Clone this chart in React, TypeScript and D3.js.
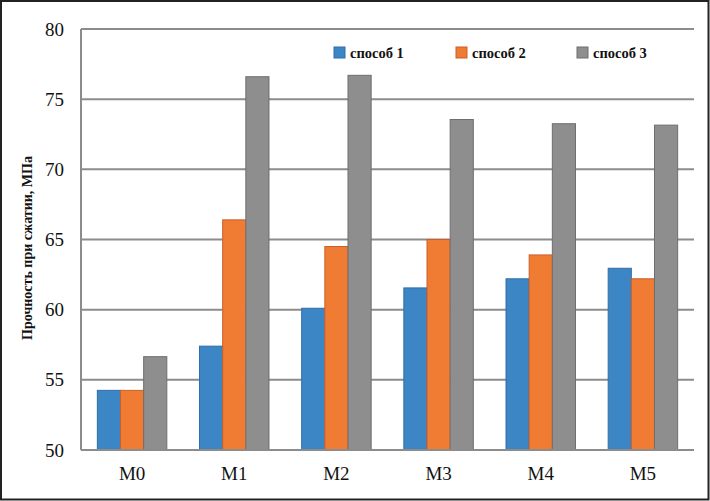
import React from "react";
import * as d3 from "d3";

const categories = ["M0", "M1", "M2", "M3", "M4", "M5"];
const seriesNames = ["способ 1", "способ 2", "способ 3"];
const series1 = [54.25, 57.4, 60.1, 61.55, 62.2, 62.95];
const series2 = [54.25, 66.4, 64.5, 65.0, 63.9, 62.2];
const series3 = [56.65, 76.6, 76.7, 73.55, 73.25, 73.15];
const yTicks = [50, 55, 60, 65, 70, 75, 80];
const colors = ["#3d86c6", "#f07b32", "#8e8e8e"];
const strokes = ["#2f6ea6", "#c9602a", "#6e6e6e"];

export default function App() {
  const W = 710, H = 501;
  const left = 81, right = 694, top = 29, bottom = 450;
  const y = d3.scaleLinear().domain([50, 80]).range([bottom, top]);
  const x = d3.scaleBand().domain(categories).range([left, right]).paddingInner(0.32).paddingOuter(0.16);
  const xs = d3.scaleBand().domain(["0", "1", "2"]).range([0, x.bandwidth()]);
  const data = [series1, series2, series3];
  const font = '"Liberation Serif"';
  const legendX = [334, 456, 577];
  return (
    <svg width={W} height={H} style={{ position: "absolute", left: 0, top: 0 }}>
      <rect x={0} y={0} width={W} height={H} fill="#fff" />
      <rect x={1} y={1} width={W - 2.5} height={H - 2.5} fill="none" stroke="#222" strokeWidth={2} />
      {yTicks.map((t) => (
        <g key={t}>
          {t > 50 && (
            <line x1={left} x2={right} y1={y(t)} y2={y(t)} stroke="#8c8c8c" strokeWidth={2} />
          )}
          <text x={64} y={y(t)} dy="0.35em" textAnchor="end" fontSize={19} fill="#111" style={{ fontFamily: font }}>
            {t}
          </text>
        </g>
      ))}
      {categories.map((c, i) => (
        <g key={c}>
          {data.map((s, k) => (
            <rect
              key={k}
              x={(x(c) as number) + (xs(String(k)) as number)}
              y={y(s[i])}
              width={xs.bandwidth()}
              height={bottom - y(s[i])}
              fill={colors[k]}
              stroke={strokes[k]}
              strokeWidth={1}
            />
          ))}
          <text x={(x(c) as number) + x.bandwidth() / 2} y={473} dy="0.35em" textAnchor="middle" fontSize={19} fill="#111" style={{ fontFamily: font }}>
            {c}
          </text>
        </g>
      ))}
      <line x1={left} x2={left} y1={top} y2={bottom} stroke="#8c8c8c" strokeWidth={2} />
      <line x1={left} x2={right} y1={bottom} y2={bottom} stroke="#8c8c8c" strokeWidth={2} />
      {seriesNames.map((n, k) => (
        <g key={n}>
          <rect x={legendX[k]} y={47} width={11} height={11} fill={colors[k]} stroke={strokes[k]} strokeWidth={1} />
          <text x={legendX[k] + 16} y={52.5} dy="0.35em" fontSize={14.5} fontWeight="bold" fill="#111" style={{ fontFamily: font }}>
            {n}
          </text>
        </g>
      ))}
      <text
        transform={`translate(27,248) rotate(-90)`}
        textAnchor="middle"
        dy="0.35em"
        fontSize={14}
        fontWeight="bold"
        fill="#111"
        style={{ fontFamily: font }}
      >
        Прочность при сжатии, МПа
      </text>
    </svg>
  );
}
